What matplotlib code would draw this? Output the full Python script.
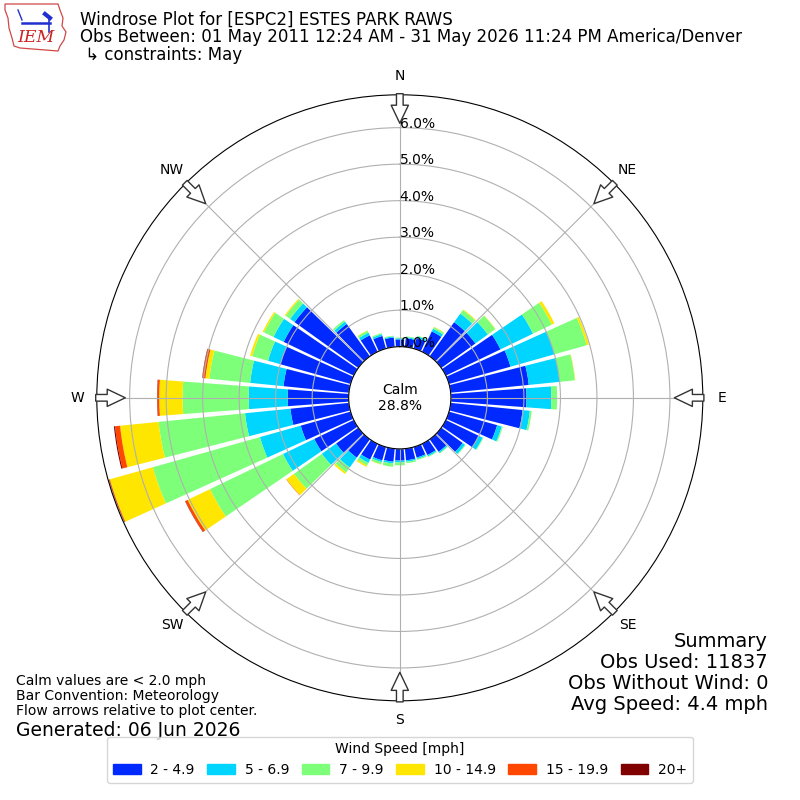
import numpy as np
import matplotlib
matplotlib.use("Agg")
import matplotlib.pyplot as plt
from matplotlib.patches import Patch, Polygon

# wind directions (deg, meteorological) and frequency (%) per speed bin
directions = np.arange(0, 360, 10)
bin_labels = ["2 - 4.9", "5 - 6.9", "7 - 9.9", "10 - 14.9", "15 - 19.9", "20+"]

spd_2_5 = [0.20, 0.24, 0.30, 0.62, 1.15, 1.15, 1.66, 1.75, 2.15, 2.07,
           1.98, 1.37, 1.00, 0.72, 0.42, 0.34, 0.30, 0.32, 0.32, 0.36,
           0.38, 0.48, 0.62, 0.75, 1.20, 1.42, 1.61, 1.67, 1.80, 2.00,
           2.13, 2.15, 1.09, 0.50, 0.36, 0.26]
spd_5_7 = [0.03, 0.03, 0.05, 0.08, 0.29, 0.42, 0.99, 1.25, 0.85, 0.68,
           0.20, 0.13, 0.12, 0.08, 0.04, 0.04, 0.04, 0.04, 0.05, 0.05,
           0.05, 0.10, 0.33, 0.48, 0.95, 1.16, 1.25, 1.07, 0.92, 0.35,
           0.31, 0.15, 0.08, 0.08, 0.05, 0.03]
spd_7_10 = [0.02, 0.02, 0.02, 0.05, 0.12, 0.25, 0.57, 0.92, 0.42, 0.16,
            0.05, 0.03, 0.02, 0.02, 0.02, 0.02, 0.03, 0.04, 0.08, 0.09,
            0.06, 0.08, 0.17, 0.94, 2.22, 3.05, 2.38, 1.81, 1.12, 0.45,
            0.29, 0.15, 0.05, 0.06, 0.03, 0.02]
spd_10_15 = [0, 0, 0, 0.01, 0.02, 0.01, 0.08, 0.06, 0.01, 0,
             0, 0, 0, 0, 0, 0, 0, 0, 0, 0,
             0.01, 0.04, 0.05, 0.25, 0.68, 1.22, 1.06, 0.64, 0.11, 0.06,
             0.04, 0.03, 0, 0.01, 0, 0]
spd_15_20 = [0, 0, 0, 0, 0, 0, 0, 0, 0, 0,
             0, 0, 0, 0, 0, 0, 0, 0, 0, 0,
             0, 0, 0, 0.01, 0.07, 0.02, 0.14, 0.05, 0.08, 0,
             0, 0, 0, 0, 0, 0]
spd_20p = [0, 0, 0, 0, 0, 0, 0, 0, 0, 0,
           0, 0, 0, 0, 0, 0, 0, 0, 0, 0,
           0, 0, 0, 0, 0.01, 0.01, 0.03, 0.01, 0.01, 0,
           0, 0, 0, 0, 0, 0]

calm_pct = 28.8
ring_ticks = [0, 1, 2, 3, 4, 5, 6]
compass = ["N", "NE", "E", "SE", "S", "SW", "W", "NW"]

series = [spd_2_5, spd_5_7, spd_7_10, spd_10_15, spd_15_20, spd_20p]
colors = plt.cm.jet(np.linspace(0, 1, 7)[1:])

fig = plt.figure(figsize=(8, 8), dpi=100)
ax = fig.add_axes([0.121, 0.124, 0.7575, 0.7575], projection="polar")
ax.set_theta_zero_location("N")
ax.set_theta_direction(-1)

theta = np.deg2rad(directions)
width = np.deg2rad(10) * 0.86
base = np.zeros(len(directions))
for vals, c in zip(series, colors):
    vals = np.array(vals)
    ax.bar(theta, vals, width=width, bottom=base, color=c, linewidth=0)
    base = base + vals

ax.set_ylim(0, 6.9)
ax.set_rorigin(-1.4)
ax.set_yticks(ring_ticks)
ax.set_yticklabels([])
for r in ring_ticks:
    ax.text(0, r, "%.1f%%" % r, ha="left", va="baseline", fontsize=10)

ang = np.deg2rad(np.arange(0, 360, 45))
ax.set_xticks(ang)
ax.set_xticklabels([])
for a, lab in zip(ang, compass):
    ax.text(a, 7.42, lab, ha="center", va="center", fontsize=10)
    ax.annotate("", xy=(a, 6.12), xytext=(a, 6.93), annotation_clip=False,
                arrowprops=dict(arrowstyle="simple,head_length=0.65,head_width=0.62,tail_width=0.24",
                                fc="white", ec="#333333", lw=1, shrinkA=0, shrinkB=0,
                                mutation_scale=20))
ax.grid(True, color="#b0b0b0", lw=0.8)

ax.text(0, -1.4, "Calm\n%.1f%%" % calm_pct, ha="center", va="center", fontsize=10)

# header
fig.text(0.1, 1 - 20 / 800, "Windrose Plot for [ESPC2] ESTES PARK RAWS",
         ha="left", va="center", fontsize=12)
fig.text(0.1, 1 - 37.5 / 800,
         "Obs Between: 01 May 2011 12:24 AM - 31 May 2026 11:24 PM America/Denver",
         ha="left", va="center", fontsize=12)
fig.text(0.1, 1 - 55 / 800, " \u21b3 constraints: May", ha="left", va="center", fontsize=12)

# simple IEM logo
px = [(5, 4), (58, 4), (60, 10), (63, 18), (62, 26), (66, 32), (64, 40), (60, 46),
      (58, 51), (20, 48), (14, 46), (12, 38), (9, 28), (8, 18), (5, 10)]
iowa = Polygon([(x / 800, 1 - y / 800) for x, y in px], closed=True, fill=False,
               ec="#d04848", lw=0.9, transform=fig.transFigure)
fig.patches.append(iowa)
fig.text(36 / 800, 1 - 38 / 800, "IEM", color="#cc2222", fontsize=12.5, style="italic",
         family="serif", ha="center", va="center")
blue = "#2030d0"
fig.lines.append(plt.Line2D([22 / 800, 50 / 800], [1 - 23 / 800, 1 - 23 / 800], color=blue,
                            lw=1.8, transform=fig.transFigure))
fig.lines.append(plt.Line2D([45 / 800, 50 / 800], [1 - 14 / 800, 1 - 18 / 800], color=blue,
                            lw=3, transform=fig.transFigure))
fig.lines.append(plt.Line2D([49 / 800, 49 / 800], [1 - 18 / 800, 1 - 32 / 800], color=blue,
                            lw=1.2, transform=fig.transFigure))
fig.lines.append(plt.Line2D([18 / 800, 22 / 800], [1 - 10 / 800, 1 - 20 / 800], color=blue,
                            lw=1.0, transform=fig.transFigure))

# notes
fig.text(0.02, 1 - 696 / 800, "Calm values are < 2.0 mph\nBar Convention: Meteorology\n"
         "Flow arrows relative to plot center.", ha="left", va="center", fontsize=10,
         linespacing=1.1)
fig.text(0.02, 1 - 730 / 800, "Generated: 06 Jun 2026", ha="left", va="center", fontsize=13.5)
fig.text(0.96, 1 - 673 / 800, "Summary\nObs Used: 11837\nObs Without Wind: 0\nAvg Speed: 4.4 mph",
         ha="right", va="center", fontsize=14, linespacing=1.12)

handles = [Patch(color=c) for c in colors]
fig.legend(handles, bin_labels, loc="lower center", bbox_to_anchor=(0.5, 0.013), ncol=6,
           title="Wind Speed [mph]", fontsize=10, title_fontsize=10, columnspacing=0.9,
           handletextpad=0.7)

fig.savefig("out.png", dpi=100)
